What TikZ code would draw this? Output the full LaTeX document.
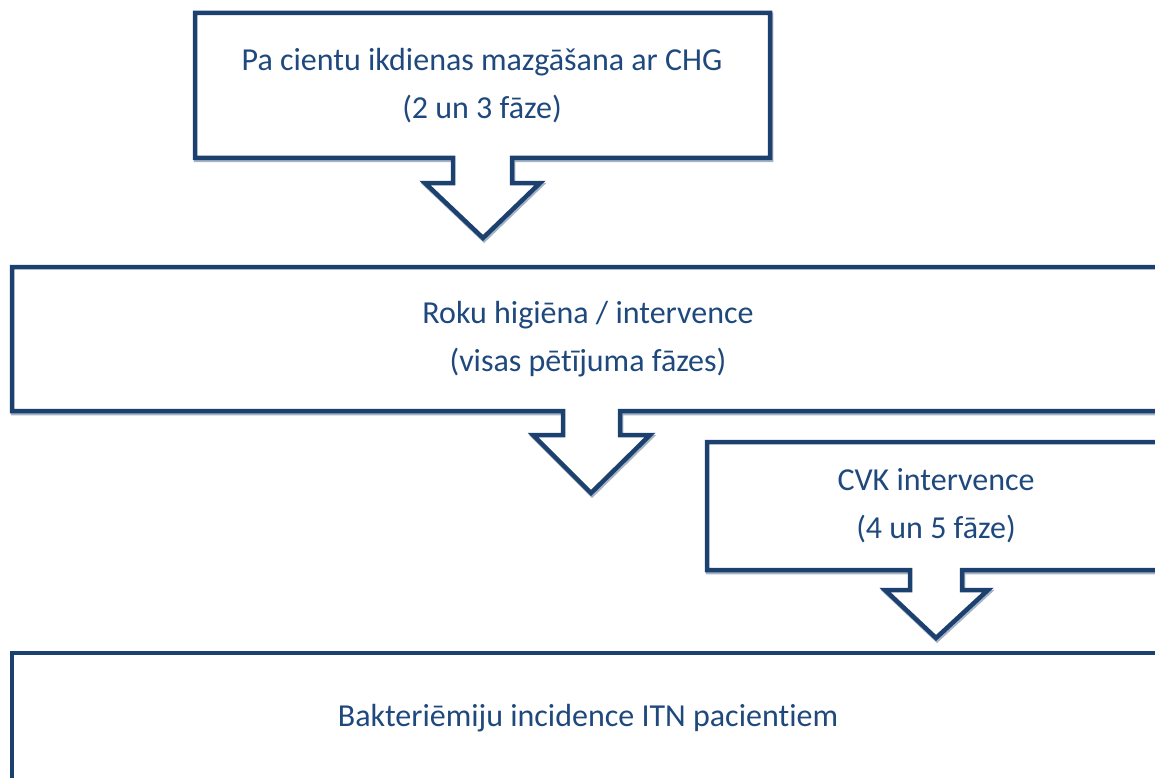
\documentclass[tikz,border=0pt]{standalone}
\usepackage{fontspec}
\setmainfont[Ligatures={NoCommon}]{Carlito}
\definecolor{frame}{HTML}{1D416F}
\definecolor{txt}{HTML}{1F497D}
\begin{document}
\begin{tikzpicture}[x=1pt,y=-1pt,
  callout/.style={draw=frame,line width=4.5pt,line join=miter,fill=white},
  shadowline/.style={draw=frame!40,line width=4.5pt},
  label/.style={text=txt,font=\fontsize{32}{48}\selectfont,align=center,inner sep=0pt}]
\useasboundingbox (0,0) rectangle (1155,778);
\clip (0,0) rectangle (1155,778);
% box 1
\draw[shadowline,shift={(1,2)}] (195,13) -- (770,13) -- (770,158) -- (512,158) -- (512,183) -- (540,183) -- (483,238) -- (425,183) -- (453,183) -- (453,158) -- (195,158) -- cycle;
\draw[callout] (195,13) -- (770,13) -- (770,158) -- (512,158) -- (512,183) -- (540,183) -- (483,238) -- (425,183) -- (453,183) -- (453,158) -- (195,158) -- cycle;
% box 2
\draw[shadowline,shift={(1,2)}] (12,267) -- (1200,267) -- (1200,411) -- (620,411) -- (620,435) -- (650,435) -- (591,493) -- (533,435) -- (563,435) -- (563,411) -- (12,411) -- cycle;
\draw[callout] (12,267) -- (1200,267) -- (1200,411) -- (620,411) -- (620,435) -- (650,435) -- (591,493) -- (533,435) -- (563,435) -- (563,411) -- (12,411) -- cycle;
% box 3
\draw[shadowline,shift={(1,2)}] (707,442) -- (1200,442) -- (1200,570) -- (962,570) -- (962,590) -- (988,590) -- (936,638) -- (885,590) -- (910,590) -- (910,570) -- (707,570) -- cycle;
\draw[callout] (707,442) -- (1200,442) -- (1200,570) -- (962,570) -- (962,590) -- (988,590) -- (936,638) -- (885,590) -- (910,590) -- (910,570) -- (707,570) -- cycle;
% box 4
\draw[callout] (12,653) rectangle (1200,860);
% texts
\node[label] (t1) at (482,86) {Pa cientu ikdienas mazgāšana ar CHG\\(2 un 3 fāze)};
\node[label] (t2) at (588,339) {Roku higiēna / intervence\\(visas pētījuma fāzes)};
\node[label] (t3) at (936,506) {CVK intervence\\(4 un 5 fāze)};
\node[label] (t4) at (588,718) {Bakteriēmiju incidence ITN pacientiem};
\end{tikzpicture}
\end{document}
